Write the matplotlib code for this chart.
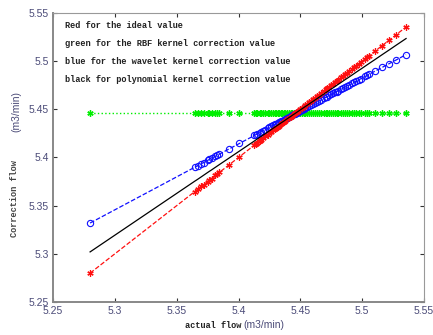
import matplotlib
matplotlib.use("Agg")
import matplotlib.pyplot as plt

# actual flow values (x)
actual_flow = [5.2800, 5.3645, 5.3669, 5.3700, 5.3717, 5.3750, 5.3765, 5.3782, 5.3814, 5.3830,
               5.3846, 5.3927, 5.4008, 5.4129, 5.4140, 5.4153, 5.4170, 5.4185, 5.4200, 5.4218,
               5.4235, 5.4250, 5.4265, 5.4282, 5.4295, 5.4306, 5.4320, 5.4331, 5.4345, 5.4355,
               5.4368, 5.4379, 5.4395, 5.4411, 5.4423, 5.4435, 5.4448, 5.4460, 5.4472, 5.4484,
               5.4500, 5.4516, 5.4528, 5.4540, 5.4557, 5.4573, 5.4590, 5.4605, 5.4620, 5.4637,
               5.4653, 5.4665, 5.4694, 5.4706, 5.4718, 5.4735, 5.4750, 5.4768, 5.4782, 5.4795,
               5.4806, 5.4831, 5.4845, 5.4863, 5.4880, 5.4895, 5.4919, 5.4935, 5.4952, 5.4975,
               5.4992, 5.5024, 5.5040, 5.5056, 5.5105, 5.5161, 5.5218, 5.5274, 5.5355]
# ideal values (red)
ideal_value = [5.2800, 5.3645, 5.3669, 5.3700, 5.3717, 5.3750, 5.3765, 5.3782, 5.3814, 5.3830,
               5.3846, 5.3927, 5.4008, 5.4129, 5.4140, 5.4153, 5.4170, 5.4185, 5.4200, 5.4218,
               5.4235, 5.4250, 5.4265, 5.4282, 5.4295, 5.4306, 5.4320, 5.4331, 5.4345, 5.4355,
               5.4368, 5.4379, 5.4395, 5.4411, 5.4423, 5.4435, 5.4448, 5.4460, 5.4472, 5.4484,
               5.4500, 5.4516, 5.4528, 5.4540, 5.4557, 5.4573, 5.4590, 5.4605, 5.4620, 5.4637,
               5.4653, 5.4665, 5.4694, 5.4706, 5.4718, 5.4735, 5.4750, 5.4768, 5.4782, 5.4795,
               5.4806, 5.4831, 5.4845, 5.4863, 5.4880, 5.4895, 5.4919, 5.4935, 5.4952, 5.4975,
               5.4992, 5.5024, 5.5040, 5.5056, 5.5105, 5.5161, 5.5218, 5.5274, 5.5355]
# RBF kernel correction (green)
rbf_value = [5.446] * 79
# wavelet kernel correction (blue)
wavelet_value = [5.3320, 5.3898, 5.3914, 5.3936, 5.3947, 5.3970, 5.3980, 5.3992, 5.4014, 5.4025,
                 5.4035, 5.4091, 5.4146, 5.4229, 5.4237, 5.4245, 5.4257, 5.4267, 5.4278, 5.4290,
                 5.4302, 5.4312, 5.4322, 5.4334, 5.4343, 5.4350, 5.4360, 5.4367, 5.4377, 5.4384,
                 5.4393, 5.4400, 5.4411, 5.4422, 5.4430, 5.4438, 5.4447, 5.4455, 5.4464, 5.4472,
                 5.4483, 5.4494, 5.4502, 5.4510, 5.4522, 5.4533, 5.4544, 5.4555, 5.4565, 5.4577,
                 5.4587, 5.4596, 5.4615, 5.4624, 5.4632, 5.4644, 5.4654, 5.4666, 5.4676, 5.4685,
                 5.4692, 5.4709, 5.4719, 5.4731, 5.4743, 5.4753, 5.4769, 5.4780, 5.4792, 5.4808,
                 5.4819, 5.4841, 5.4852, 5.4863, 5.4897, 5.4935, 5.4974, 5.5012, 5.5068]
# polynomial kernel correction (black)
poly_value = [5.3020, 5.3753, 5.3773, 5.3800, 5.3815, 5.3844, 5.3857, 5.3871, 5.3899, 5.3913,
              5.3927, 5.3997, 5.4067, 5.4172, 5.4182, 5.4193, 5.4208, 5.4221, 5.4234, 5.4249,
              5.4264, 5.4277, 5.4290, 5.4305, 5.4316, 5.4326, 5.4338, 5.4347, 5.4360, 5.4368,
              5.4379, 5.4389, 5.4403, 5.4417, 5.4427, 5.4438, 5.4449, 5.4459, 5.4470, 5.4480,
              5.4494, 5.4508, 5.4518, 5.4529, 5.4543, 5.4557, 5.4572, 5.4585, 5.4598, 5.4613,
              5.4627, 5.4637, 5.4662, 5.4673, 5.4683, 5.4698, 5.4711, 5.4726, 5.4738, 5.4750,
              5.4759, 5.4781, 5.4793, 5.4809, 5.4823, 5.4836, 5.4857, 5.4871, 5.4886, 5.4906,
              5.4920, 5.4948, 5.4962, 5.4976, 5.5018, 5.5067, 5.5116, 5.5165, 5.5235]

ticks = [5.25, 5.3, 5.35, 5.4, 5.45, 5.5, 5.55]
tick_labels = ["5.25", "5.3", "5.35", "5.4", "5.45", "5.5", "5.55"]
notes = ["Red for the ideal value",
         "green for the RBF kernel correction value",
         "blue for the wavelet kernel correction value",
         "black for polynomial kernel correction value"]

mono = "Liberation Mono"
sans = "Liberation Sans"
tick_color = "#4b4b78"

fig = plt.figure(figsize=(4.33, 3.35), dpi=100)
ax = fig.add_axes([53/433, 33/335, (424-53)/433, (302-13)/335])

ast = (6, 2, 0)
ax.plot(actual_flow, rbf_value, linestyle=":", color="#00ee00", lw=1.0,
        marker=ast, ms=4.5, mew=1.0, zorder=2)
ax.plot(actual_flow, wavelet_value, linestyle="--", color="#1010ff", lw=0.9,
        marker="o", ms=4.5, mfc="none", mew=0.8, zorder=3)
ax.plot(actual_flow, ideal_value, linestyle="--", color="#ff1010", lw=0.9,
        marker=ast, ms=4.5, mew=0.9, zorder=4)
ax.plot(actual_flow, poly_value, linestyle="-", color="black", lw=0.9, zorder=5)

ax.set_xlim(5.25, 5.55)
ax.set_ylim(5.25, 5.55)
ax.set_xticks(ticks)
ax.set_xticklabels(tick_labels, family=sans, fontsize=7.5, color=tick_color)
ax.set_yticks(ticks)
ax.set_yticklabels(tick_labels, family=sans, fontsize=7.5, color=tick_color)
ax.tick_params(direction="in", length=3, width=0.8, color="#333333",
               top=True, right=True, pad=3)

for side in ["left", "bottom"]:
    ax.spines[side].set_color("#888888")
    ax.spines[side].set_linewidth(1.4)
for side in ["top", "right"]:
    ax.spines[side].set_color("#999999")
    ax.spines[side].set_linewidth(0.8)

ys = [25, 43, 61, 79]
for t, yp in zip(notes, ys):
    fig.text(65/433, 1 - yp/335, t, family=mono, fontsize=6.2, fontweight="bold",
             color="#222222", va="center", ha="left")

# x label (two parts, mixed fonts)
fig.text(241/433, 1 - 325/335, "actual flow", family=mono, fontsize=6.2,
         fontweight="bold", color="#222222", va="center", ha="right")
fig.text(243/433, 1 - 325/335, "(m3/min)", family=sans, fontsize=7.5,
         color=tick_color, va="center", ha="left")
# y label
fig.text(15/433, 1 - 237/335, "Correction flow", family=mono, fontsize=6.2,
         fontweight="bold", color="#444444", va="bottom", ha="center", rotation=90)
fig.text(16/433, 1 - 132/335, "(m3/min)", family=sans, fontsize=7.5,
         color=tick_color, va="bottom", ha="center", rotation=90)

fig.savefig("out.png", dpi=100)
